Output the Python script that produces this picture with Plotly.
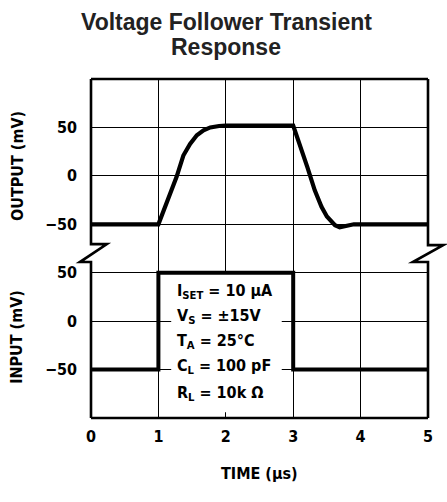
import plotly.graph_objects as go
from plotly.subplots import make_subplots

# ---- data ----
time_out = [0.0, 1.0, 1.27, 1.37, 1.47, 1.57, 1.67, 1.77, 1.9, 2.0, 3.0,
            3.1, 3.21, 3.32, 3.42, 3.5, 3.62, 3.69, 3.8, 3.9, 4.0, 5.0]
output_mv = [-50, -50, -1, 21, 33, 42, 47, 50, 51.5, 52, 52,
             33, 9, -15, -32, -42, -51, -53, -51, -50, -50, -50]

time_in = [0, 1, 1, 3, 3, 5]
input_mv = [-50, -50, 50, 50, -50, -50]

x_ticks = [0, 1, 2, 3, 4, 5]
y_ticks = [-50, 0, 50]
y_ticklabels = ["\u221250", "0", "50"]

cond_lines = ["I<sub>SET</sub> = 10 \u03bcA",
              "V<sub>S</sub> = \u00b115V",
              "T<sub>A</sub> = 25\u00b0C",
              "C<sub>L</sub> = 100 pF",
              "R<sub>L</sub> = 10k \u03a9"]
cond_y = [31, 5, -21, -47, -75]

title_lines = ["Voltage Follower Transient", "Response"]

NARROW = "Liberation Sans Narrow, Arial Narrow, DejaVu Sans Condensed, sans-serif"
SANS = "Liberation Sans, Arial, Helvetica, sans-serif"

fig = make_subplots(rows=2, cols=1, shared_xaxes=True, vertical_spacing=0)

fig.add_trace(go.Scatter(x=time_out, y=output_mv, mode="lines",
                         line=dict(color="black", width=4.2),
                         showlegend=False), row=1, col=1)
fig.add_trace(go.Scatter(x=time_in, y=input_mv, mode="lines",
                         line=dict(color="black", width=4),
                         showlegend=False), row=2, col=1)

axfont = dict(family=NARROW, size=16, color="black", weight="bold")

for r in (1, 2):
    fig.update_xaxes(range=[0, 5], tickvals=x_ticks, showgrid=False,
                     zeroline=False, showline=False,
                     minor=dict(tickvals=[1, 2, 3, 4], showgrid=True,
                                gridcolor="black", gridwidth=1.2),
                     row=r, col=1)
fig.update_xaxes(showticklabels=False, row=1, col=1)
fig.update_xaxes(tickfont=axfont, ticks="", ticklabelstandoff=7, row=2, col=1)

fig.update_yaxes(range=[-75, 100], row=1, col=1)
fig.update_yaxes(range=[-100, 75], row=2, col=1)
for r in (1, 2):
    fig.update_yaxes(tickvals=y_ticks, ticktext=y_ticklabels, showgrid=True,
                     gridcolor="black", gridwidth=1.2, zeroline=False,
                     showline=False, ticks="", tickfont=axfont,
                     ticklabelstandoff=13, row=r, col=1)

# white box behind the test conditions
fig.add_shape(type="rect", xref="x2", yref="y2", x0=1.19, x1=2.83, y0=-94, y1=50,
              fillcolor="white", line=dict(width=0), layer="between")

for txt, yy in zip(cond_lines, cond_y):
    fig.add_annotation(x=1.25, y=yy, xref="x2", yref="y2", text=txt,
                       showarrow=False, xanchor="left", yanchor="middle",
                       font=dict(family=NARROW, size=16, color="black", weight="bold"))

# frame with break marks (paper coordinates)
lw = 2.6
frame = dict(color="black", width=lw)
fig.add_shape(type="line", xref="paper", yref="paper", x0=0, x1=1, y0=1, y1=1, line=frame)
fig.add_shape(type="line", xref="paper", yref="paper", x0=0, x1=1, y0=0, y1=0, line=frame)
fig.add_shape(type="path", xref="paper", yref="paper",
              path="M 0 1 L 0 0.513 L 0.047 0.513 L -0.033 0.46 L 0 0.46 L 0 0",
              line=frame)
fig.add_shape(type="path", xref="paper", yref="paper",
              path="M 1 1 L 1 0.51 L 1.045 0.51 L 0.955 0.46 L 1 0.46 L 1 0",
              line=frame)

# axis titles
for txt, yy in (("OUTPUT (mV)", 0.743), ("INPUT (mV)", 0.239)):
    fig.add_annotation(x=-0.22, y=yy, xref="paper", yref="paper", text=txt,
                       textangle=-90, showarrow=False, xanchor="center", yanchor="middle",
                       font=dict(family=NARROW, size=16, color="black", weight="bold"))
fig.add_annotation(x=0.5, y=-0.165, xref="paper", yref="paper", text="TIME (\u03bcs)",
                   showarrow=False, xanchor="center", yanchor="middle",
                   font=dict(family=NARROW, size=16, color="black", weight="bold"))

# title (two lines)
for txt, yy in zip(title_lines, [1.168, 1.094]):
    fig.add_annotation(x=0.4006, y=yy, xref="paper", yref="paper", text=txt,
                       showarrow=False, xanchor="center", yanchor="middle",
                       font=dict(family=SANS, size=23, color="#222", weight="bold"))

fig.update_layout(
    width=447, height=502,
    margin=dict(l=91, r=19, t=79, b=84),
    paper_bgcolor="white", plot_bgcolor="white",
    showlegend=False,
)

fig.write_html("out.html", config={"displayModeBar": False},
               post_script="document.body.style.margin='0';")
